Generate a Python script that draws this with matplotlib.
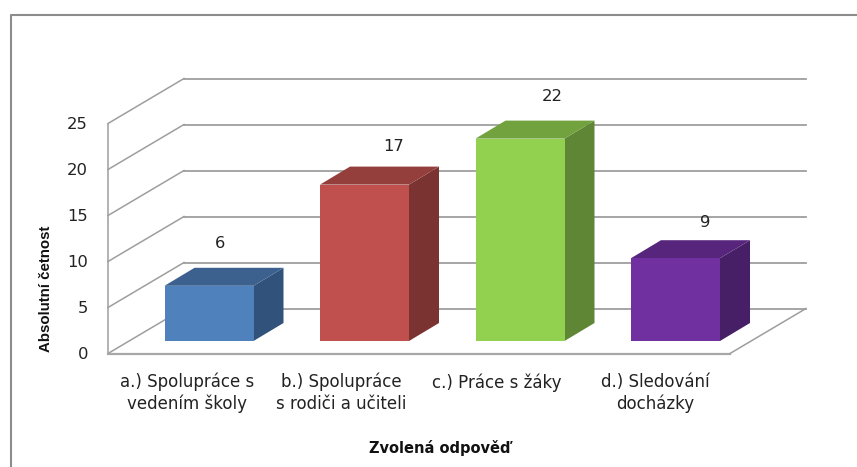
# -*- coding: utf-8 -*-
import matplotlib
matplotlib.use('Agg')
import matplotlib.pyplot as plt
from matplotlib.patches import Polygon

# dados
categorias = ['a.) Spolupráce s\nvedením školy', 'b.) Spolupráce\ns rodiči a učiteli',
              'c.) Práce s žáky', 'd.) Sledování\ndocházky']
valores = [6, 17, 22, 9]
ticks_y = [0, 5, 10, 15, 20, 25]
titulo_x = 'Zvolená odpověď'
titulo_y = 'Absolutní četnost'

cor_frente = ['#4F81BD', '#C0504D', '#92D050', '#7030A0']
cor_topo = ['#3D618F', '#953F3C', '#71A23E', '#57267C']
cor_lado = ['#31527A', '#7A3330', '#5F8635', '#461F66']
cor_grade = '#9E9E9E'

# escala em pixels da figura
W, H = 857, 467
px_x = 155.5     # pixels por categoria
px_y = 9.2       # pixels por unidade
x0_px = 108      # x=-0.5 aqui
y0_px = 353.5    # y=0 aqui

fig = plt.figure(figsize=(W / 100, H / 100), dpi=100)
ax = fig.add_axes([0, 0, 1, 1])
ax.set_xlim(-0.5 - x0_px / px_x, -0.5 + (W - x0_px) / px_x)
ax.set_ylim(-(H - y0_px) / px_y, y0_px / px_y)
ax.axis('off')

# profundidade da parede e das barras
prof_x = 76 / px_x
prof_y = 45 / px_y
barra_dx = 30 / px_x
barra_dy = 18 / px_y
barra_w = 89 / px_x
barra_base = 12.5 / px_y
barra_desl = 23.25 / px_x

x_ini = -0.5
x_fim = len(categorias) - 0.5

# grade 3D
for t in ticks_y:
    if t > 0:
        ax.plot([x_ini, x_ini + prof_x], [t, t + prof_y], color=cor_grade, lw=1.1, zorder=1)
    ax.plot([x_ini + prof_x, x_fim + prof_x], [t + prof_y, t + prof_y], color=cor_grade, lw=1.3, zorder=1)
    ax.text(x_ini - 20 / px_x, t - 0.1, str(t), ha='right', va='center', fontsize=11.8, color='#222222')

ax.plot([x_ini, x_ini], [0, ticks_y[-1]], color=cor_grade, lw=1.1, zorder=1)
ax.plot([x_ini, x_ini + prof_x], [0, prof_y], color=cor_grade, lw=1.1, zorder=1)
ax.plot([x_ini, x_fim], [0, 0], color='#A8A8A8', lw=1.6, zorder=1)
ax.plot([x_fim, x_fim + prof_x], [0, prof_y], color=cor_grade, lw=1.1, zorder=1)

# barras
ajuste_rotulo = [(11, 42), (29, 38), (32, 42), (30, 36)]
for i, v in enumerate(valores):
    e = i + barra_desl - barra_w / 2
    d = e + barra_w
    b = barra_base
    t = barra_base + v
    ax.add_patch(Polygon([(d, b), (d + barra_dx, b + barra_dy), (d + barra_dx, t + barra_dy), (d, t)],
                         facecolor=cor_lado[i], edgecolor='none', zorder=3))
    ax.add_patch(Polygon([(e, t), (d, t), (d + barra_dx, t + barra_dy), (e + barra_dx, t + barra_dy)],
                         facecolor=cor_topo[i], edgecolor='none', zorder=3))
    ax.add_patch(Polygon([(e, b), (d, b), (d, t), (e, t)],
                         facecolor=cor_frente[i], edgecolor='none', zorder=4))
    ax.text(i + barra_desl + ajuste_rotulo[i][0] / px_x, t + ajuste_rotulo[i][1] / px_y, str(v),
            ha='center', va='center', fontsize=11.8, color='#222222', zorder=5)

# rotulos das categorias
ajuste_cat = [1, 0, 0, 3]
for i, nome in enumerate(categorias):
    y_px = 393 if '\n' in nome else 383
    ax.text(i + ajuste_cat[i] / px_x, -(y_px - y0_px) / px_y, nome, ha='center', va='center',
            fontsize=12, color='#222222', linespacing=1.27)

ax.text(440 / W, 1 - 448 / H, titulo_x, transform=ax.transAxes, ha='center', va='center',
        fontsize=10.5, fontweight='bold', color='#111111')
ax.text(46 / W, 1 - 289 / H, titulo_y, transform=ax.transAxes, rotation=90, ha='center', va='center',
        fontsize=10.8, fontweight='bold', family='Liberation Sans', color='#111111')

# moldura
ax.plot([11 / W, 11 / W, 1], [0, 1 - 15 / H, 1 - 15 / H], transform=ax.transAxes,
        color='#8C8C8C', lw=1.5, clip_on=False)

fig.savefig('out.png', dpi=100)
